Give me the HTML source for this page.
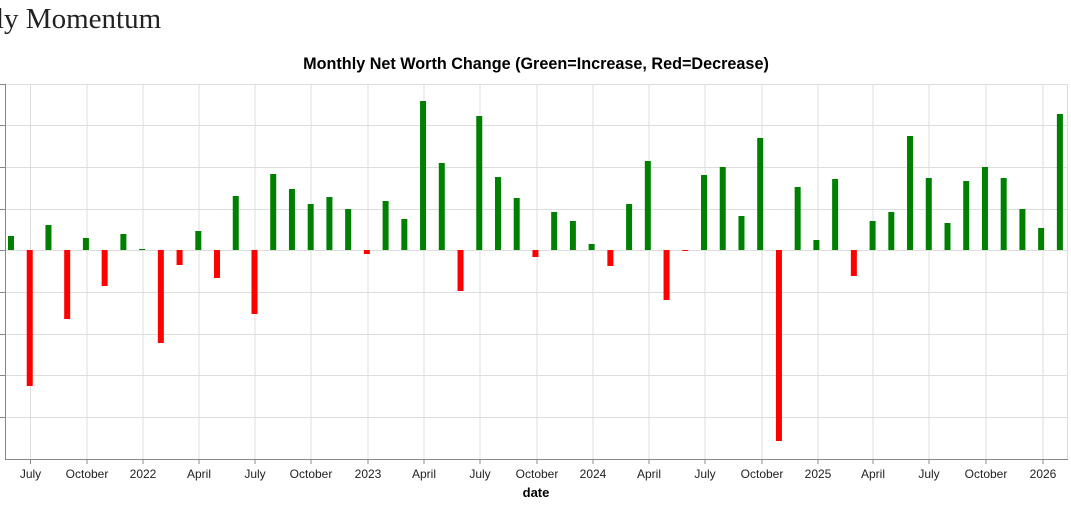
<!DOCTYPE html>
<html><head><meta charset="utf-8"><style>
html,body{margin:0;padding:0;background:#fff;width:1071px;height:518px;overflow:hidden}
</style></head><body>
<svg width="1071" height="518" xmlns="http://www.w3.org/2000/svg" font-family="Liberation Sans, sans-serif">
<text x="-4" y="28" font-family="Liberation Serif, serif" font-size="29" fill="#222">ly Momentum</text>
<text x="536" y="69" font-size="16.2" font-weight="bold" text-anchor="middle" fill="#000">Monthly Net Worth Change (Green=Increase, Red=Decrease)</text>
<g stroke="#ddd" stroke-width="1">
<line x1="5" x2="1068" y1="84.5" y2="84.5"/><line x1="5" x2="1068" y1="125.5" y2="125.5"/><line x1="5" x2="1068" y1="167.5" y2="167.5"/><line x1="5" x2="1068" y1="209.5" y2="209.5"/><line x1="5" x2="1068" y1="250.5" y2="250.5"/><line x1="5" x2="1068" y1="292.5" y2="292.5"/><line x1="5" x2="1068" y1="334.5" y2="334.5"/><line x1="5" x2="1068" y1="375.5" y2="375.5"/><line x1="5" x2="1068" y1="417.5" y2="417.5"/>
<line x1="1067.5" x2="1067.5" y1="84" y2="459"/>
</g>
<g stroke="#ddd" stroke-width="1" id="vg"></g>
<g id="bars"></g>
<line x1="5.5" x2="5.5" y1="84" y2="459" stroke="#888"/>
<line x1="0" x2="5" y1="84.5" y2="84.5" stroke="#888"/><line x1="0" x2="5" y1="125.5" y2="125.5" stroke="#888"/><line x1="0" x2="5" y1="167.5" y2="167.5" stroke="#888"/><line x1="0" x2="5" y1="209.5" y2="209.5" stroke="#888"/><line x1="0" x2="5" y1="250.5" y2="250.5" stroke="#888"/><line x1="0" x2="5" y1="292.5" y2="292.5" stroke="#888"/><line x1="0" x2="5" y1="334.5" y2="334.5" stroke="#888"/><line x1="0" x2="5" y1="375.5" y2="375.5" stroke="#888"/><line x1="0" x2="5" y1="417.5" y2="417.5" stroke="#888"/>
<line x1="5" x2="1068" y1="459.5" y2="459.5" stroke="#888"/>
<g id="ticks" font-size="12" fill="#222" text-anchor="middle"></g>
<text x="536" y="497" font-size="13" font-weight="bold" text-anchor="middle" fill="#000">date</text>
</svg>
<script>
var ns="http://www.w3.org/2000/svg";
var tx=[[30.5,"July"],[87,"October"],[143,"2022"],[199,"April"],[255,"July"],[311,"October"],[368,"2023"],[424,"April"],[480,"July"],[537,"October"],[593,"2024"],[649,"April"],[705,"July"],[762,"October"],[818,"2025"],[873,"April"],[929,"July"],[986,"October"],[1043,"2026"]];
var vg=document.getElementById("vg"),tk=document.getElementById("ticks");
tx.forEach(function(t){var l=document.createElementNS(ns,"line");l.setAttribute("x1",t[0]);l.setAttribute("x2",t[0]);l.setAttribute("y1",84);l.setAttribute("y2",459);vg.appendChild(l);
var m=document.createElementNS(ns,"line");m.setAttribute("x1",t[0]);m.setAttribute("x2",t[0]);m.setAttribute("y1",459);m.setAttribute("y2",464);m.setAttribute("stroke","#888");tk.appendChild(m);
var s=document.createElementNS(ns,"text");s.setAttribute("x",t[0]);s.setAttribute("y",478);s.textContent=t[1];tk.appendChild(s);});
var v=[236,386,225,319,238,286,234,249,343,265,231,278,196,314,174,189,204,197,209,254,201,219,101,163,291,116,177,198,257,212,221,244,266,204,161,300,251,175,167,216,138,441,187,240,179,276,221,212,136,178,223,181,167,178,209,228,114];
var b=document.getElementById("bars");
v.forEach(function(y,i){var x=11+i*18.73;var r=document.createElementNS(ns,"rect");var top=Math.min(y,250),h=Math.max(Math.abs(250-y),1);
r.setAttribute("x",x-3);r.setAttribute("width",6);r.setAttribute("y",top);r.setAttribute("height",h);r.setAttribute("fill",y<250?"#008000":"#ff0000");b.appendChild(r);});
</script>
</body></html>
